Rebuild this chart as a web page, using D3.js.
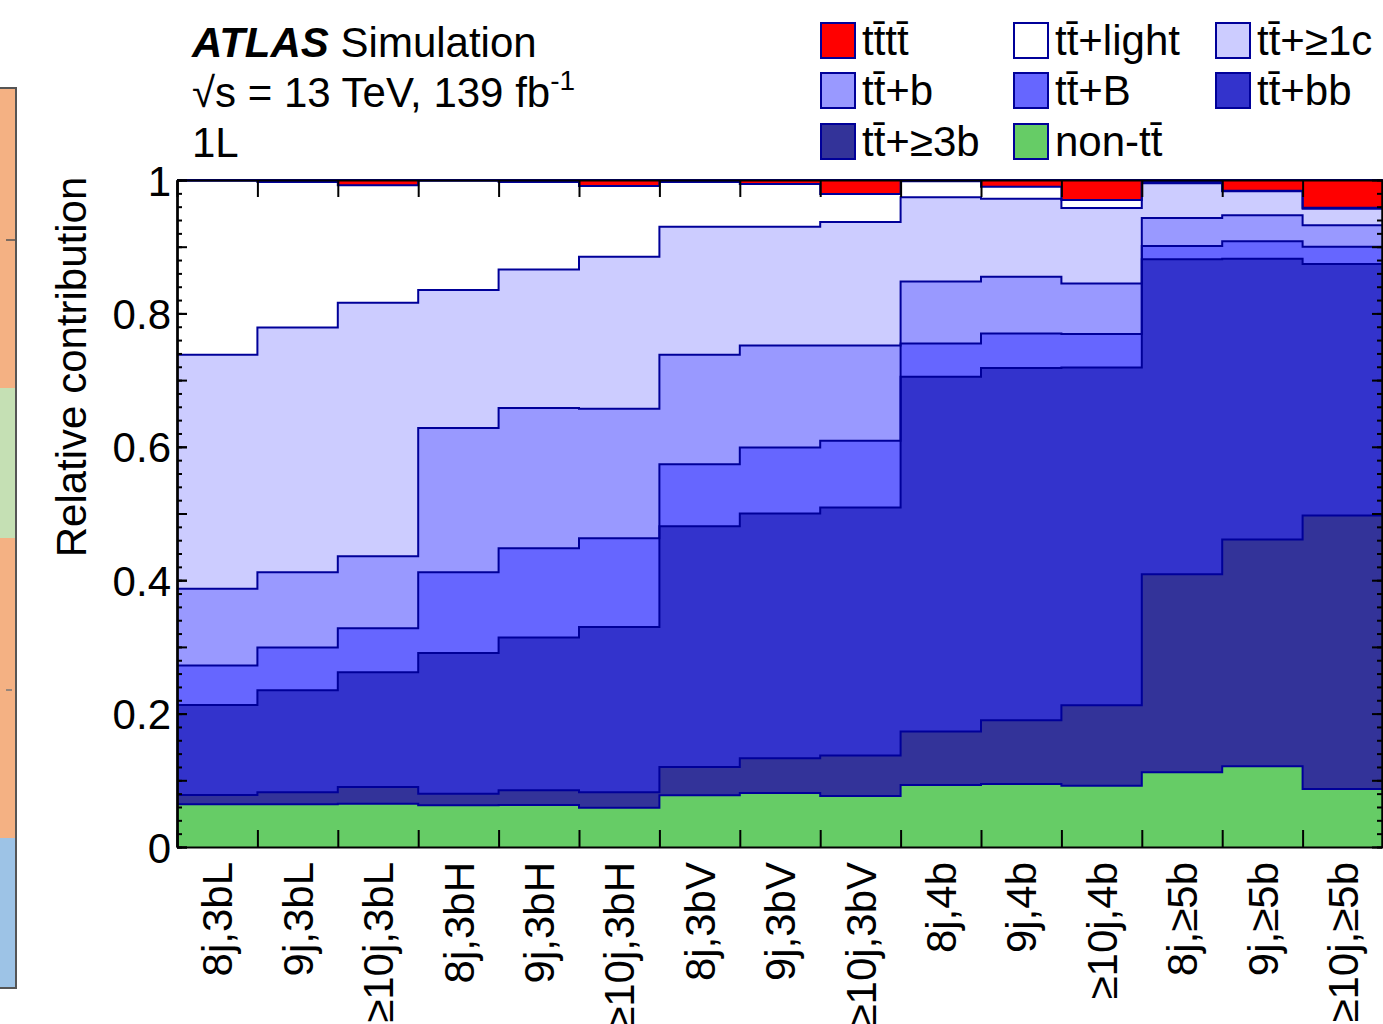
<!DOCTYPE html>
<html>
<head>
<meta charset="utf-8">
<script src="https://cdn.jsdelivr.net/npm/d3@7"></script>
<style>
body { margin: 0; background: #fff; }
svg text { font-family: "Liberation Sans", Arial, Helvetica, sans-serif; fill: #000; }
</style>
</head>
<body>
<div id="chart"></div>
<script>
// regions (x categories)
const regions = ["8j,3bL", "9j,3bL", "\u226510j,3bL", "8j,3bH", "9j,3bH", "\u226510j,3bH",
    "8j,3bV", "9j,3bV", "\u226510j,3bV", "8j,4b", "9j,4b", "\u226510j,4b",
    "8j,\u22655b", "9j,\u22655b", "\u226510j,\u22655b"];

// relative contribution of each process per region
const nonTT   = [0.064, 0.064, 0.065, 0.0625, 0.063, 0.059, 0.0775, 0.081, 0.0765, 0.093, 0.0945, 0.092, 0.112, 0.121, 0.087];
const ttGe3b  = [0.014, 0.018, 0.025, 0.0175, 0.022, 0.023, 0.0425, 0.052, 0.0605, 0.080, 0.0955, 0.1205, 0.297, 0.340, 0.410];
const ttbb    = [0.135, 0.153, 0.172, 0.211, 0.229, 0.248, 0.361, 0.367, 0.372, 0.532, 0.528, 0.5065, 0.472, 0.421, 0.377];
const ttB     = [0.059, 0.064, 0.066, 0.121, 0.134, 0.133, 0.093, 0.099, 0.100, 0.050, 0.052, 0.050, 0.020, 0.026, 0.026];
const ttb     = [0.115, 0.113, 0.108, 0.216, 0.210, 0.194, 0.164, 0.153, 0.143, 0.093, 0.085, 0.076, 0.042, 0.039, 0.032];
const ttGe1c  = [0.351, 0.367, 0.380, 0.207, 0.208, 0.228, 0.192, 0.178, 0.185, 0.126, 0.117, 0.113, 0.052, 0.036, 0.025];
const ttLight = [0.261, 0.218, 0.176, 0.164, 0.131, 0.106, 0.067, 0.064, 0.042, 0.024, 0.018, 0.012, 0.002, 0.001, 0.0015];
const tttt    = [0.001, 0.003, 0.008, 0.001, 0.003, 0.009, 0.003, 0.006, 0.021, 0.002, 0.010, 0.030, 0.003, 0.016, 0.0415];

// stack order, bottom to top
const keys = ["nonTT", "ttGe3b", "ttbb", "ttB", "ttb", "ttGe1c", "ttLight", "tttt"];
const labels = {
    nonTT: "non-t\u0074\u0304",
    ttGe3b: "t\u0074\u0304+\u22653b",
    ttbb: "t\u0074\u0304+bb",
    ttB: "t\u0074\u0304+B",
    ttb: "t\u0074\u0304+b",
    ttGe1c: "t\u0074\u0304+\u22651c",
    ttLight: "t\u0074\u0304+light",
    tttt: "t\u0074\u0304t\u0074\u0304"
};
const colors = {
    nonTT: "#66cc66", ttGe3b: "#333399", ttbb: "#3333cc", ttB: "#6666ff",
    ttb: "#9999ff", ttGe1c: "#ccccff", ttLight: "#ffffff", tttt: "#ff0000"
};
// legend order (3 columns)
const legendOrder = ["tttt", "ttLight", "ttGe1c", "ttb", "ttB", "ttbb", "ttGe3b", "nonTT"];

const yLabels = [0, 0.2, 0.4, 0.6, 0.8, 1];

const W = 1383, H = 1024;
const plot = { left: 177, right: 1383, top: 180, bottom: 847 };
const edge = "#000099";

const table = regions.map((r, i) => ({
    region: r, nonTT: nonTT[i], ttGe3b: ttGe3b[i], ttbb: ttbb[i], ttB: ttB[i],
    ttb: ttb[i], ttGe1c: ttGe1c[i], ttLight: ttLight[i], tttt: tttt[i]
}));

const stacked = d3.stack().keys(keys)(table);

const svg = d3.select("#chart").append("svg")
    .attr("width", W)
    .attr("height", H);

// strip from the neighbouring panel at the very left
const strip = svg.append("g");
[["#f4b183", 88, 388], ["#c5e0b4", 388, 538], ["#f4b183", 538, 838], ["#9dc3e6", 838, 988]].forEach(s => {
    strip.append("rect").attr("x", 0).attr("y", s[1]).attr("width", 16).attr("height", s[2] - s[1]).attr("fill", s[0]);
});
strip.append("path").attr("d", "M0,88H16V988H0").attr("fill", "none").attr("stroke", "#555").attr("stroke-width", 2);
strip.append("line").attr("x1", 6).attr("x2", 16).attr("y1", 240).attr("y2", 240).attr("stroke", "#555").attr("stroke-width", 1.5);
strip.append("line").attr("x1", 6).attr("x2", 12).attr("y1", 690).attr("y2", 690).attr("stroke", "#777").attr("stroke-width", 1.5);

// scales
const x = d3.scaleBand().domain(regions).range([plot.left, plot.right]).padding(0);
const xEdges = d3.scaleLinear().domain([0, regions.length]).range([plot.left, plot.right]);
const y = d3.scaleLinear().domain([0, 1]).range([plot.bottom, plot.top]);

function stepPoints(layer) {
    const pts = [];
    layer.forEach((d, i) => {
        const x0 = x(regions[i]);
        pts.push({ x: x0, v: d[1] });
        pts.push({ x: x0 + x.bandwidth(), v: d[1] });
    });
    return pts;
}

const area = d3.area().x(p => p.x).y0(y(0)).y1(p => y(p.v));
const line = d3.line().x(p => p.x).y(p => y(p.v));

// draw like a root stack: biggest sum first, each filled down to zero
const layers = svg.append("g");
stacked.slice().reverse().forEach(layer => {
    layers.append("path")
        .attr("d", area(stepPoints(layer)))
        .attr("fill", colors[layer.key]);
});
stacked.slice().reverse().forEach(layer => {
    layers.append("path")
        .attr("d", line(stepPoints(layer)))
        .attr("fill", "none")
        .attr("stroke", edge)
        .attr("stroke-width", 2);
});

// axes
function styleAxis(g) {
    g.selectAll("path.domain").attr("stroke", "#000").attr("stroke-width", 2);
    g.selectAll(".tick line").attr("stroke", "#000").attr("stroke-width", 2);
    g.selectAll("text").attr("font-size", 42).attr("fill", "#000")
        .style("font-family", '"Liberation Sans", Arial, Helvetica, sans-serif');
}

const minorY = d3.range(0, 51).map(i => i / 50);
const midY = d3.range(0, 11).map(i => i / 10);

svg.append("g").attr("transform", `translate(${plot.left},0)`)
    .call(d3.axisLeft(y).tickValues(minorY).tickSize(-5).tickSizeOuter(0).tickFormat(""))
    .call(styleAxis);
svg.append("g").attr("transform", `translate(${plot.left},0)`)
    .call(d3.axisLeft(y).tickValues(midY).tickSize(-10).tickSizeOuter(0).tickFormat(""))
    .call(styleAxis);
svg.append("g").attr("transform", `translate(${plot.left},0)`)
    .call(d3.axisLeft(y).tickValues(yLabels).tickSize(-10).tickSizeOuter(0).tickPadding(6)
        .tickFormat(d => String(d)))
    .call(styleAxis)
    .selectAll("text").attr("dy", "0.36em");

svg.append("g").attr("transform", `translate(${plot.right - 1},0)`)
    .call(d3.axisRight(y).tickValues(minorY).tickSize(-5).tickSizeOuter(0).tickFormat(""))
    .call(styleAxis);
svg.append("g").attr("transform", `translate(${plot.right - 1},0)`)
    .call(d3.axisRight(y).tickValues(midY).tickSize(-10).tickSizeOuter(0).tickFormat(""))
    .call(styleAxis);

svg.append("g").attr("transform", `translate(0,${plot.bottom})`)
    .call(d3.axisBottom(xEdges).tickValues(d3.range(0, regions.length + 1)).tickSize(-17).tickSizeOuter(0).tickFormat(""))
    .call(styleAxis);
svg.append("g").attr("transform", `translate(0,${plot.top})`)
    .call(d3.axisTop(xEdges).tickValues(d3.range(0, regions.length + 1)).tickSize(-17).tickSizeOuter(0).tickFormat(""))
    .call(styleAxis);

// rotated region labels
svg.append("g").selectAll("text")
    .data(regions)
    .enter().append("text")
    .attr("transform", d => `translate(${x(d) + x.bandwidth() / 2},862) rotate(-90)`)
    .attr("text-anchor", "end")
    .attr("dy", "0.36em")
    .attr("font-size", 42)
    .text(d => d);

// y title
svg.append("text")
    .attr("transform", "translate(86,367) rotate(-90)")
    .attr("text-anchor", "middle")
    .attr("font-size", 42)
    .text("Relative contribution");

// ATLAS label
const t1 = svg.append("text").attr("x", 192).attr("y", 57).attr("font-size", 42);
t1.append("tspan").attr("font-weight", "bold").attr("font-style", "italic").text("ATLAS");
t1.append("tspan").text(" Simulation");
const t2 = svg.append("text").attr("x", 192).attr("y", 107).attr("font-size", 42);
t2.append("tspan").text("\u221As = 13 TeV, 139 fb");
t2.append("tspan").attr("font-size", 28).attr("dy", -17).text("-1");
svg.append("text").attr("x", 192).attr("y", 157).attr("font-size", 42).text("1L");

// legend
const legX = [820, 1013, 1215], legY = [22, 72, 123];
const leg = svg.append("g").selectAll("g")
    .data(legendOrder)
    .enter().append("g")
    .attr("transform", (d, i) => `translate(${legX[i % 3]},${legY[Math.floor(i / 3)]})`);
leg.append("rect")
    .attr("x", 1).attr("y", 1).attr("width", 34).attr("height", 35)
    .attr("fill", d => colors[d])
    .attr("stroke", edge).attr("stroke-width", 2);
leg.append("text")
    .attr("x", 42).attr("y", 33)
    .attr("font-size", 42)
    .text(d => labels[d]);
</script>
</body>
</html>
